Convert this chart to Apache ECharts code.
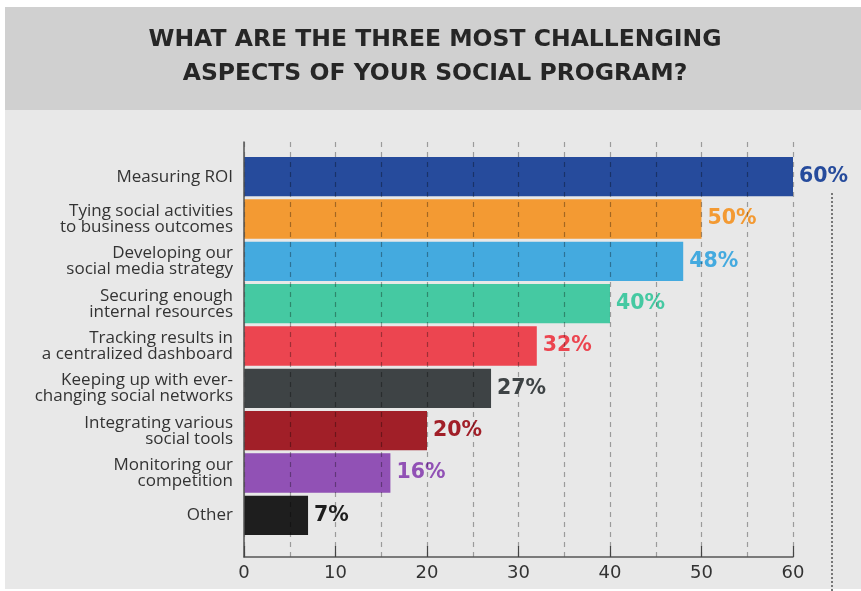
<!DOCTYPE html>
<html><head><meta charset="utf-8">
<script src="https://cdn.jsdelivr.net/npm/echarts@6/dist/echarts.min.js"></script>
<style>html,body{margin:0;padding:0;background:#fff}#c{width:861px;height:591px}</style>
</head><body><div id="c"></div>
<script>
const titleLines = ['WHAT ARE THE THREE MOST CHALLENGING', 'ASPECTS OF YOUR SOCIAL PROGRAM?'];
const categories = [
  'Measuring ROI',
  'Tying social activities\nto business outcomes',
  'Developing our\nsocial media strategy',
  'Securing enough\ninternal resources',
  'Tracking results in\na centralized dashboard',
  'Keeping up with ever-\nchanging social networks',
  'Integrating various\nsocial tools',
  'Monitoring our\ncompetition',
  'Other'
];
const values = [60, 50, 48, 40, 32, 27, 20, 16, 7];
const colors = ['#264b9c', '#f39a33', '#44aadf', '#45c9a2', '#ec4550', '#3e4345', '#a11f28', '#9151b5', '#1e1e1e'];
const xTicks = [0, 10, 20, 30, 40, 50, 60];

const chart = echarts.init(document.getElementById('c'), null, {renderer: 'canvas'});
const W = 861, H = 591;
chart.setOption({
  animation: false,
  backgroundColor: '#ffffff',
  textStyle: {fontFamily: 'Open Sans'},
  graphic: [
    {type: 'rect', z: -10, shape: {x: 5, y: 110, width: W - 5, height: 479}, style: {fill: '#e8e8e8'}},
    {type: 'rect', z: -10, shape: {x: 5, y: 7, width: W - 5, height: 103}, style: {fill: '#d0d0d0'}},
    {type: 'text', z: 5, x: 435, y: 40, style: {text: titleLines[0], fill: '#262626', font: 'bold 23.5px "DejaVu Sans"', align: 'center', verticalAlign: 'middle'}},
    {type: 'text', z: 5, x: 435, y: 73.5, style: {text: titleLines[1], fill: '#262626', font: 'bold 23.5px "DejaVu Sans"', align: 'center', verticalAlign: 'middle'}},
    {type: 'line', z: 5, shape: {x1: 832, y1: 193, x2: 832, y2: 591}, style: {stroke: '#777', lineWidth: 2, lineDash: [2, 2]}}
  ],
  grid: [
    {left: 244, right: 68, top: 142, bottom: 34},
    {left: 244, right: 68, top: 155.5, bottom: 54.5}
  ],
  xAxis: [
    {
      gridIndex: 0, type: 'value', min: xTicks[0], max: xTicks[xTicks.length - 1], interval: 10, z: 10,
      axisLine: {show: true, lineStyle: {color: '#555', width: 1.5}},
      axisTick: {show: true, inside: true, length: 11, lineStyle: {color: '#444', width: 1.2}},
      axisLabel: {color: '#333', fontSize: 18, margin: 7, fontFamily: 'DejaVu Sans'},
      splitLine: {show: true, lineStyle: {color: 'rgba(0,0,0,0.33)', type: [5, 5], width: 1.2}},
      minorTick: {show: false, splitNumber: 2},
      minorSplitLine: {show: true, lineStyle: {color: 'rgba(0,0,0,0.33)', type: [5, 5], width: 1.2}}
    },
    {
      gridIndex: 1, type: 'value', min: 0, max: 60, show: false
    }
  ],
  yAxis: [
    {
      gridIndex: 0, type: 'value', min: 0, max: 1, z: 10,
      axisLine: {show: true, lineStyle: {color: '#555', width: 1.5}},
      axisTick: {show: false}, axisLabel: {show: false}, splitLine: {show: false}
    },
    {
      gridIndex: 1, type: 'category', data: categories, inverse: true,
      axisLine: {show: false}, axisTick: {show: false},
      axisLabel: {color: '#333', fontSize: 17, lineHeight: 16, margin: 11, align: 'right', fontFamily: 'Open Sans'}
    }
  ],
  series: [{
    type: 'bar', xAxisIndex: 1, yAxisIndex: 1,
    barCategoryGap: '7%',
    data: values.map((v, i) => ({value: v, itemStyle: {color: colors[i]}, label: {color: colors[i]}})),
    label: {show: true, position: 'right', distance: 6, formatter: '{c}%', fontSize: 20.5, fontWeight: 'bold', fontFamily: 'DejaVu Sans'}
  }]
});
</script></body></html>
